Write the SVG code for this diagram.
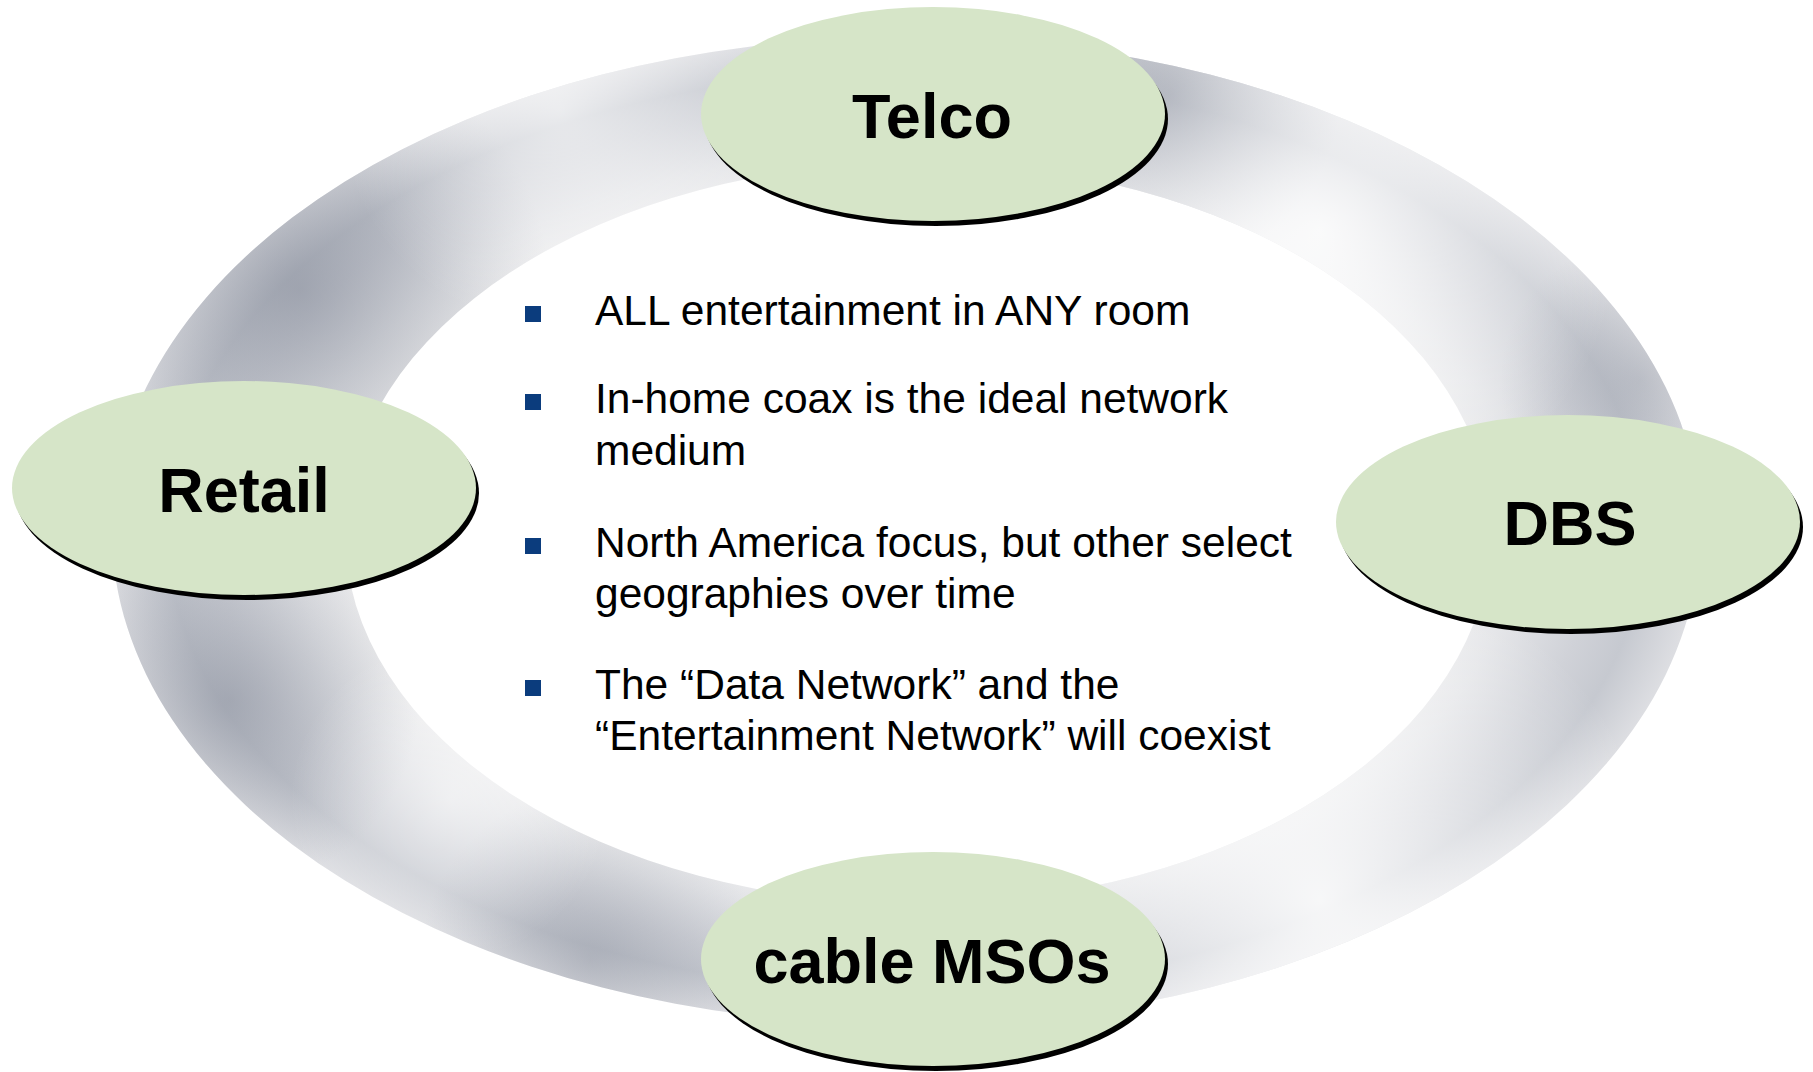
<svg xmlns="http://www.w3.org/2000/svg" width="1813" height="1072" viewBox="0 0 1813 1072">
  <defs>
    <radialGradient id="ringBand" cx="0.5" cy="0.5" r="0.5">
      <stop offset="0.70" stop-color="#efeff0"/>
      <stop offset="0.77" stop-color="#e4e5e8"/>
      <stop offset="0.87" stop-color="#d0d2d8"/>
      <stop offset="0.93" stop-color="#c6c9d0"/>
      <stop offset="1.0" stop-color="#dddee2"/>
    </radialGradient>
    <radialGradient id="hiA" gradientUnits="userSpaceOnUse" cx="1320" cy="230" r="300">
      <stop offset="0" stop-color="#ffffff" stop-opacity="0.85"/>
      <stop offset="1" stop-color="#ffffff" stop-opacity="0"/>
    </radialGradient>
    <radialGradient id="hiB" gradientUnits="userSpaceOnUse" cx="1320" cy="900" r="340">
      <stop offset="0" stop-color="#ffffff" stop-opacity="0.85"/>
      <stop offset="1" stop-color="#ffffff" stop-opacity="0"/>
    </radialGradient>
    <radialGradient id="hiC" gradientUnits="userSpaceOnUse" cx="560" cy="110" r="220">
      <stop offset="0" stop-color="#ffffff" stop-opacity="0.6"/>
      <stop offset="1" stop-color="#ffffff" stop-opacity="0"/>
    </radialGradient>
    <radialGradient id="hiD" gradientUnits="userSpaceOnUse" cx="450" cy="800" r="160">
      <stop offset="0" stop-color="#ffffff" stop-opacity="0.5"/>
      <stop offset="1" stop-color="#ffffff" stop-opacity="0"/>
    </radialGradient>
    <radialGradient id="dkA" gradientUnits="userSpaceOnUse" cx="1170" cy="95" r="170">
      <stop offset="0" stop-color="#6c7384" stop-opacity="0.5"/>
      <stop offset="1" stop-color="#6c7384" stop-opacity="0"/>
    </radialGradient>
    <radialGradient id="dkB" gradientUnits="userSpaceOnUse" cx="300" cy="290" r="250">
      <stop offset="0" stop-color="#6c7384" stop-opacity="0.45"/>
      <stop offset="1" stop-color="#6c7384" stop-opacity="0"/>
    </radialGradient>
    <radialGradient id="dkC" gradientUnits="userSpaceOnUse" cx="230" cy="700" r="190">
      <stop offset="0" stop-color="#6c7384" stop-opacity="0.4"/>
      <stop offset="1" stop-color="#6c7384" stop-opacity="0"/>
    </radialGradient>
    <radialGradient id="dkD" gradientUnits="userSpaceOnUse" cx="590" cy="960" r="170">
      <stop offset="0" stop-color="#6c7384" stop-opacity="0.3"/>
      <stop offset="1" stop-color="#6c7384" stop-opacity="0"/>
    </radialGradient>
    <radialGradient id="dkE" gradientUnits="userSpaceOnUse" cx="1640" cy="380" r="140">
      <stop offset="0" stop-color="#6c7384" stop-opacity="0.25"/>
      <stop offset="1" stop-color="#6c7384" stop-opacity="0"/>
    </radialGradient>
    <clipPath id="ringClip">
      <path clip-rule="evenodd" d="M 112 531 A 794 494 0 1 0 1700 531 A 794 494 0 1 0 112 531 Z M 345 533 A 573 371 0 1 0 1491 533 A 573 371 0 1 0 345 533 Z"/>
    </clipPath>
  </defs>
  <style>
    .shadow { fill: #000000; }
    .node { fill: #d6e5c8; }
    .label { font-family: "Liberation Sans", Arial, sans-serif; font-weight: bold; font-size: 63px; fill: #000000; text-anchor: middle; }
    .bullet { fill: #0b3c7d; }
    .btext { font-family: "Liberation Sans", Arial, sans-serif; font-size: 42.5px; fill: #000000; }
    .ov { x: 0; y: 0; }
  </style>
  <rect width="1813" height="1072" fill="#ffffff"/>

  <g id="ring" clip-path="url(#ringClip)">
    <rect x="112" y="37" width="1588" height="988" fill="url(#ringBand)"/>
    <rect width="1813" height="1072" fill="url(#dkA)"/>
    <rect width="1813" height="1072" fill="url(#dkB)"/>
    <rect width="1813" height="1072" fill="url(#dkC)"/>
    <rect width="1813" height="1072" fill="url(#dkD)"/>
    <rect width="1813" height="1072" fill="url(#dkE)"/>
    <rect width="1813" height="1072" fill="url(#hiA)"/>
    <rect width="1813" height="1072" fill="url(#hiB)"/>
    <rect width="1813" height="1072" fill="url(#hiC)"/>
    <rect width="1813" height="1072" fill="url(#hiD)"/>
  </g>

  <g id="connectors"></g>

  <g id="node-telco">
    <ellipse class="shadow" cx="936" cy="119" rx="232" ry="107"/>
    <ellipse class="node" cx="933" cy="114" rx="232" ry="107"/>
    <text class="label" x="932" y="138">Telco</text>
  </g>
  <g id="node-retail">
    <ellipse class="shadow" cx="247" cy="493" rx="232" ry="107"/>
    <ellipse class="node" cx="244" cy="488" rx="232" ry="107"/>
    <text class="label" x="244" y="512">Retail</text>
  </g>
  <g id="node-dbs">
    <ellipse class="shadow" cx="1571" cy="527" rx="232" ry="107"/>
    <ellipse class="node" cx="1568" cy="522" rx="232" ry="107"/>
    <text class="label" x="1570" y="545">DBS</text>
  </g>
  <g id="node-cable">
    <ellipse class="shadow" cx="936" cy="964" rx="232" ry="107"/>
    <ellipse class="node" cx="933" cy="959" rx="232" ry="107"/>
    <text class="label" x="932" y="983">cable MSOs</text>
  </g>

  <g id="bullets">
    <rect class="bullet" x="525" y="306" width="16" height="16"/>
    <text class="btext" x="595" y="325">ALL entertainment in ANY room</text>
    <rect class="bullet" x="525" y="394" width="16" height="16"/>
    <text class="btext" x="595" y="413">In-home coax is the ideal network</text>
    <text class="btext" x="595" y="465">medium</text>
    <rect class="bullet" x="525" y="538" width="16" height="16"/>
    <text class="btext" x="595" y="557">North America focus, but other select</text>
    <text class="btext" x="595" y="608">geographies over time</text>
    <rect class="bullet" x="525" y="680" width="16" height="16"/>
    <text class="btext" x="595" y="699">The “Data Network” and the</text>
    <text class="btext" x="595" y="750">“Entertainment Network” will coexist</text>
  </g>
</svg>
